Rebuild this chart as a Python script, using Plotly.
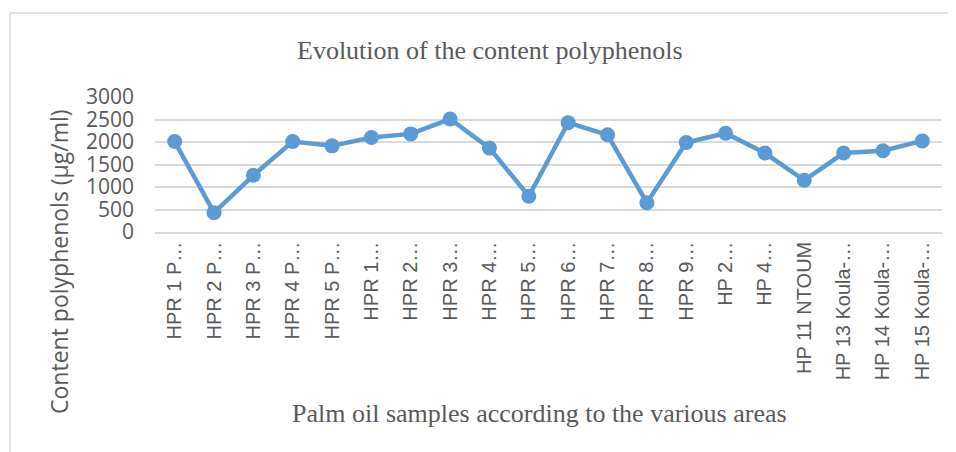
import plotly.graph_objects as go

# sample labels as truncated on the original axis
samples = [
    "HPR 1 P…", "HPR 2 P…", "HPR 3 P…", "HPR 4 P…", "HPR 5 P…",
    "HPR 1…", "HPR 2…", "HPR 3…", "HPR 4…", "HPR 5…",
    "HPR 6…", "HPR 7…", "HPR 8…", "HPR 9…", "HP 2…",
    "HP 4…", "HP 11 NTOUM", "HP 13 Koula-…", "HP 14 Koula-…", "HP 15 Koula-…",
]
polyphenols = [
    2010, 430, 1260, 2010, 1915,
    2100, 2180, 2510, 1865, 795,
    2430, 2160, 650, 1990, 2195,
    1755, 1150, 1755, 1805, 2025,
]
y_ticks = [0, 500, 1000, 1500, 2000, 2500, 3000]

# page has an 8px body margin, so the figure is drawn 8px smaller
W, H = 948, 444
L, R, T, B = 147, 14, 89, 220
pw, ph = W - L - R, H - T - B


def px(x):
    return (x - L) / pw


def py(y):
    return (H - B - y) / ph


fig = go.Figure()
fig.add_trace(go.Scatter(
    x=list(range(len(samples))), y=polyphenols, mode="lines+markers",
    line=dict(color="#5b9bd5", width=4.5),
    marker=dict(color="#5b9bd5", size=15),
    hoverinfo="x+y",
))

# chart-area border (only top and left edges visible in the crop)
fig.add_shape(type="line", xref="paper", yref="paper", x0=px(2), x1=px(2), y0=py(460), y1=py(5),
              line=dict(color="#d9d9d9", width=1.5))
fig.add_shape(type="line", xref="paper", yref="paper", x0=px(2), x1=px(960), y0=py(5), y1=py(5),
              line=dict(color="#d9d9d9", width=1.5))

serif = dict(family="Liberation Serif", size=26, color="#595959")
centred = dict(xref="paper", yref="paper", showarrow=False, xanchor="center", yanchor="middle")
fig.add_annotation(text="Evolution of the content polyphenols",
                   x=px(482), y=py(42), font=serif, **centred)
fig.add_annotation(text="Palm oil samples according to the various areas",
                   x=px(531), y=py(405), font=serif, **centred)
fig.add_annotation(text="Content polyphenols (µg/ml)",
                   x=px(51), y=py(254), textangle=-90,
                   font=dict(family="Open Sans", size=23, color="#595959"), **centred)

fig.update_layout(
    width=W, height=H,
    margin=dict(l=L, r=R, t=T, b=B),
    paper_bgcolor="white", plot_bgcolor="white",
    showlegend=False,
)
fig.update_xaxes(
    range=[-0.5, len(samples) - 0.5],
    tickmode="array", tickvals=list(range(len(samples))), ticktext=samples,
    tickangle=-90, tickfont=dict(family="Liberation Sans", size=20, color="#595959"),
    showgrid=False, showline=True, linecolor="#d9d9d9", linewidth=1.5,
    ticks="", zeroline=False,
)
fig.update_yaxes(
    range=[0, 3000], tickmode="array", tickvals=y_ticks,
    tickfont=dict(family="Open Sans", size=21, color="#595959"),
    showgrid=True, gridcolor="#d9d9d9", gridwidth=1.5, zeroline=False,
    ticks="", ticklabelstandoff=20,
)

fig.write_html("out.html")
